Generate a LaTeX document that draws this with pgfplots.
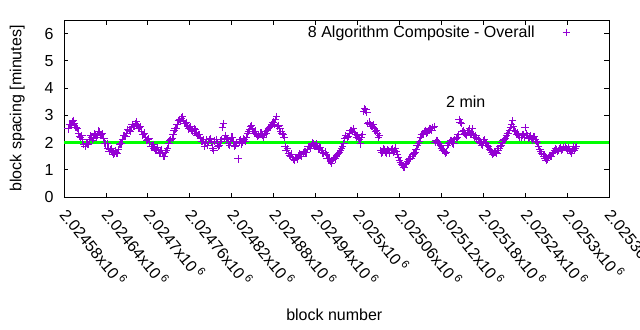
\documentclass[border=0pt]{standalone}
\usepackage{pgfplots}
\pgfplotsset{compat=1.18}
\usepackage{pgfplotstable}
\usepackage{fontspec}
\setmainfont{Liberation Sans}
\definecolor{dviolet}{HTML}{9400D3}
\definecolor{lgreen}{HTML}{00FF00}
% block offset from 2024580 (o, p) and block spacing in minutes (v, w)
\pgfplotstableread{
o v p w
6 2.50 7.5 2.68
9 2.65 10.5 2.62
12 2.78 13.5 2.82
15 2.70 16.5 2.55
18 2.55 19.5 2.52
21 2.35 22.5 2.22
24 2.20 25.5 2.25
27 2.10 28.5 1.92
30 1.85 31.5 1.98
33 1.95 34.5 1.92
36 2.10 37.5 2.25
39 2.20 40.5 2.08
42 2.15 43.5 2.32
45 2.30 46.5 2.18
48 2.25 49.5 2.42
51 2.40 52.5 2.25
54 2.30 55.5 2.32
57 2.15 58.5 1.98
60 1.95 61.5 1.95
63 1.80 64.5 1.68
66 1.75 67.5 1.78
69 1.65 70.5 1.55
72 1.60 73.5 1.70
75 1.62 76.5 1.60
78 1.75 79.5 1.92
81 1.95 82.5 1.95
84 2.10 85.5 2.25
87 2.25 88.5 2.22
90 2.35 91.5 2.48
93 2.45 94.5 2.42
96 2.55 97.5 2.66
99 2.60 100.5 2.58
102 2.70 103.5 2.76
105 2.65 106.5 2.52
108 2.55 109.5 2.58
111 2.40 112.5 2.28
114 2.30 115.5 2.35
117 2.20 118.5 2.08
120 2.10 121.5 2.15
123 2.00 124.5 1.85
126 1.85 127.5 1.92
129 1.80 130.5 1.70
132 1.75 133.5 1.82
135 1.70 136.5 1.60
138 1.65 139.5 1.72
141 1.60 142.5 1.50
144 1.48 145.5 1.62
147 1.70 148.5 1.78
150 1.95 151.5 2.08
153 2.10 154.5 2.15
156 2.30 157.5 2.45
159 2.50 160.5 2.52
162 2.65 163.5 2.80
165 2.85 166.5 2.78
168 2.90 169.5 2.95
171 2.80 172.5 2.70
174 2.70 175.5 2.72
177 2.60 178.5 2.50
180 2.55 181.5 2.60
183 2.45 184.5 2.40
186 2.50 187.5 2.48
189 2.35 190.5 2.25
192 2.30 193.5 2.30
195 2.15 196.5 2.05
198 2.05 199.5 2.10
201 1.85 202.5 2.00
204 2.10 205.5 1.90
207 2.00 208.5 2.12
210 2.15 211.5 2.00
213 1.80 214.5 1.70
216 2.05 217.5 2.12
219 1.95 220.5 1.85
222 1.90 223.5 2.05
225 2.10 226.5 2.55
228 2.70 229.5 2.15
231 2.25 232.5 2.10
234 2.15 235.5 1.95
237 1.90 238.5 2.05
240 2.20 241.5 2.20
243 2.05 244.5 1.85
246 1.90 247.5 2.00
249 1.40 250.5 2.05
252 2.10 253.5 1.95
255 2.00 256.5 2.15
258 2.10 259.5 2.05
261 2.20 262.5 2.32
264 2.40 265.5 2.48
267 2.60 268.5 2.62
270 2.50 271.5 2.40
273 2.35 274.5 2.42
276 2.30 277.5 2.22
279 2.25 280.5 2.35
282 2.35 283.5 2.25
285 2.20 286.5 2.30
288 2.40 289.5 2.35
291 2.45 292.5 2.52
294 2.55 295.5 2.58
297 2.65 298.5 2.72
300 2.75 301.5 2.68
303 2.85 304.5 2.95
306 2.60 307.5 2.62
309 2.50 310.5 2.40
312 2.35 313.5 2.28
315 2.20 316.5 1.85
318 1.70 319.5 1.78
321 1.60 322.5 1.52
324 1.50 325.5 1.58
327 1.45 328.5 1.38
330 1.35 331.5 1.45
333 1.45 334.5 1.40
336 1.50 337.5 1.58
339 1.55 340.5 1.50
342 1.60 343.5 1.68
345 1.65 346.5 1.62
348 1.75 349.5 1.85
351 1.85 352.5 1.80
354 1.90 355.5 1.98
357 1.95 358.5 1.88
360 1.90 361.5 1.95
363 1.85 364.5 1.75
366 1.80 367.5 1.82
369 1.70 370.5 1.62
372 1.60 373.5 1.65
375 1.55 376.5 1.42
378 1.40 379.5 1.40
381 1.30 382.5 1.25
384 1.35 385.5 1.42
387 1.45 388.5 1.40
390 1.50 391.5 1.58
393 1.60 394.5 1.62
396 1.70 397.5 1.80
399 1.85 400.5 1.95
402 2.15 403.5 2.25
405 2.20 406.5 2.22
408 2.35 409.5 2.45
411 2.45 412.5 2.40
414 2.50 415.5 2.38
417 2.30 418.5 2.20
420 2.25 421.5 2.15
423 2.10 424.5 1.95
426 2.20 427.5 2.30
429 3.15 430.5 3.25
432 3.20 433.5 3.10
435 2.70 436.5 2.75
438 2.65 439.5 2.58
441 2.60 442.5 2.65
444 2.50 445.5 2.42
447 2.45 448.5 2.35
450 2.20 451.5 2.25
453 1.70 454.5 1.62
456 1.65 457.5 1.78
459 1.75 460.5 1.65
462 1.60 463.5 1.72
465 1.70 466.5 1.60
468 1.75 469.5 1.78
471 1.65 472.5 1.70
474 1.80 475.5 1.68
477 1.55 478.5 1.45
480 1.35 481.5 1.28
483 1.20 484.5 1.15
486 1.10 487.5 1.08
489 1.20 490.5 1.22
492 1.30 493.5 1.38
495 1.40 496.5 1.42
498 1.50 499.5 1.58
501 1.60 502.5 1.65
504 1.75 505.5 1.88
507 1.95 508.5 2.05
510 2.20 511.5 2.28
513 2.30 514.5 2.32
516 2.40 517.5 2.45
519 2.35 520.5 2.38
522 2.45 523.5 2.52
525 2.50 526.5 2.45
528 2.55 529.5 2.60
531 2.00 532.5 2.08
534 2.05 535.5 1.98
537 1.95 538.5 1.90
540 1.80 541.5 1.72
543 1.75 544.5 1.68
546 1.60 547.5 1.65
549 1.90 550.5 1.95
552 2.00 553.5 2.08
555 2.05 556.5 1.98
558 1.95 559.5 2.10
561 2.15 562.5 2.20
564 2.30 565.5 2.85
567 2.75 568.5 2.70
570 2.40 571.5 2.45
573 2.35 574.5 2.30
576 2.25 577.5 2.38
579 2.45 580.5 2.50
582 2.30 583.5 2.35
585 2.50 586.5 2.30
588 2.20 589.5 2.25
591 2.15 592.5 2.10
594 2.05 595.5 2.00
597 1.95 598.5 1.90
600 2.05 601.5 2.10
603 2.00 604.5 1.95
606 1.90 607.5 1.85
609 1.75 610.5 1.70
612 1.65 613.5 1.58
615 1.60 616.5 1.65
618 1.65 619.5 1.60
621 1.70 622.5 1.78
624 1.85 625.5 1.90
627 2.00 628.5 2.08
630 2.10 631.5 2.15
633 2.25 634.5 2.32
636 2.35 637.5 2.45
639 2.55 640.5 2.65
642 2.80 643.5 2.60
645 2.45 646.5 2.40
648 2.30 649.5 2.35
651 2.25 652.5 2.18
654 2.20 655.5 2.28
657 2.30 658.5 2.20
660 2.55 661.5 2.32
663 2.25 664.5 2.15
666 2.20 667.5 2.25
669 2.15 670.5 2.10
672 2.20 673.5 2.22
675 2.10 676.5 2.05
678 2.00 679.5 1.85
681 1.75 682.5 1.68
684 1.60 685.5 1.55
687 1.50 688.5 1.42
690 1.35 691.5 1.40
693 1.45 694.5 1.52
696 1.50 697.5 1.48
699 1.60 700.5 1.65
702 1.70 703.5 1.78
705 1.75 706.5 1.68
708 1.70 709.5 1.78
711 1.80 712.5 1.70
714 1.75 715.5 1.82
717 1.85 718.5 1.78
720 1.70 721.5 1.80
723 1.75 724.5 1.68
726 1.60 727.5 1.75
729 1.85 730.5 1.72
732 1.80 733.5 1.85
}\spacing
\begin{document}
\begin{tikzpicture}[font=\fontsize{16bp}{19bp}\selectfont]
\begin{axis}[
  at={(0,0)}, anchor=south west,
  scale only axis, width=545bp, height=177bp,
  xmin=0, xmax=780, ymin=0, ymax=6.5,
  xtick={0,60,...,780},
  xticklabels={
    2.02458x10\kern3bp\textsuperscript{6},
    2.02464x10\kern3bp\textsuperscript{6},
    2.0247x10\kern3bp\textsuperscript{6},
    2.02476x10\kern3bp\textsuperscript{6},
    2.02482x10\kern3bp\textsuperscript{6},
    2.02488x10\kern3bp\textsuperscript{6},
    2.02494x10\kern3bp\textsuperscript{6},
    2.025x10\kern3bp\textsuperscript{6},
    2.02506x10\kern3bp\textsuperscript{6},
    2.02512x10\kern3bp\textsuperscript{6},
    2.02518x10\kern3bp\textsuperscript{6},
    2.02524x10\kern3bp\textsuperscript{6},
    2.0253x10\kern3bp\textsuperscript{6},
    2.02536x10\kern3bp\textsuperscript{6}},
  ytick={0,1,...,6},
  /pgf/number format/assume math mode=true,
  tick align=inside, major tick length=4.5bp,
  tick style={black, line width=0.8bp},
  axis line style={line width=0.8bp},
  xticklabel style={rotate=-51, anchor=base west, inner sep=0pt, xshift=10.8bp, yshift=-15.4bp},
  yticklabel style={xshift=-7bp},
  xlabel={block number},
  xlabel style={at={(axis description cs:0.496,-0.70)}, anchor=base},
  ylabel={block spacing [minutes]},
  ylabel style={at={(axis description cs:-0.086,0.5)}, anchor=center},
  legend plot pos=right,
  legend style={draw=none, fill=none, at={(axis description cs:0.929,0.93)}, anchor=east,
    inner sep=0pt, row sep=0pt, /tikz/every odd column/.append style={column sep=26bp}},
  clip=false,
]
\addplot[only marks, mark=+, mark size=3.7bp, draw=dviolet, mark options={draw=dviolet, line width=0.9bp}] table[x=o, y=v] {\spacing};
\addlegendentry{8 Algorithm Composite - Overall}
\addplot[forget plot, only marks, mark=+, mark size=3.7bp, draw=dviolet, mark options={draw=dviolet, line width=0.9bp}] table[x=p, y=w] {\spacing};
\addplot[forget plot, color=lgreen, line width=3.8bp] coordinates {(0,2) (780,2)};
\node[anchor=center] at (axis cs:575,3.5) {2 min};
\end{axis}
\pgfresetboundingbox
\path (-64bp,-133bp) rectangle (576bp,197bp);
\end{tikzpicture}
\end{document}
